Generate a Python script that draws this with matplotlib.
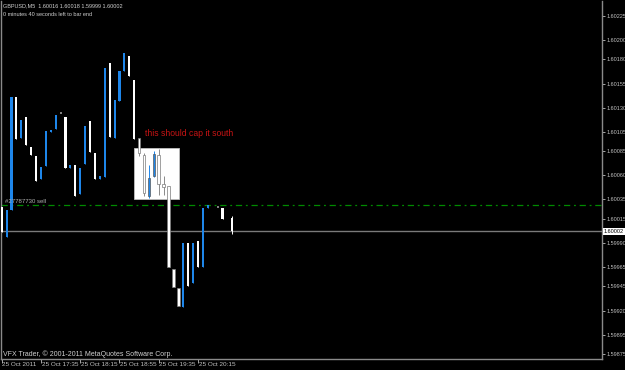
import matplotlib
matplotlib.use("Agg")
from matplotlib import pyplot as plt
from matplotlib import transforms
from matplotlib.patches import Rectangle
import numpy as np

plt.rcParams['font.family'] = ['Liberation Sans', 'DejaVu Sans']

# GBPUSD M5 bars (nan = no bar drawn)
opens = [1.60027, 1.59996, 1.60024, 1.60141, 1.60099, 1.60120, 1.60089, 1.60080,
         1.60056, 1.60070, 1.60105, 1.60108, 1.60125, 1.60120, 1.60068, 1.60071,
         1.60041, 1.60072, 1.60116, 1.60083, 1.60056, 1.60058, 1.60176, 1.60099,
         1.60137, 1.60168, 1.60184, 1.60159, 1.60099, 1.60081, 1.60039, 1.60059,
         1.60081, 1.60051, 1.60049, 1.59963, 1.59943, 1.59924, 1.59990, 1.59948,
         1.59992, 1.59965, 1.60026, np.nan, 1.60027, 1.60026, np.nan, 1.60016]
closes = [1.60001, 1.60024, 1.60141, 1.60098, 1.60117, 1.60091, 1.60081, 1.60054,
          1.60069, 1.60106, 1.60107, 1.60122, 1.60125, 1.60068, 1.60071, 1.60039,
          1.60068, 1.60111, 1.60084, 1.60056, 1.60059, 1.60171, 1.60100, 1.60138,
          1.60168, 1.60187, 1.60163, 1.60098, 1.60083, 1.60042, 1.60057, 1.60082,
          1.60051, 1.60048, 1.59965, 1.59944, 1.59925, 1.59990, 1.59945, 1.59990,
          1.59965, 1.60026, 1.60029, np.nan, 1.60027, 1.60015, np.nan, 1.60002]
highs = [1.60027, 1.60024, 1.60141, 1.60141, 1.60117, 1.60120, 1.60089, 1.60080,
         1.60069, 1.60106, 1.60107, 1.60122, 1.60125, 1.60120, 1.60071, 1.60071,
         1.60068, 1.60111, 1.60116, 1.60083, 1.60059, 1.60171, 1.60176, 1.60138,
         1.60168, 1.60187, 1.60184, 1.60159, 1.60099, 1.60083, 1.60071, 1.60085,
         1.60087, 1.60059, 1.60049, 1.59963, 1.59943, 1.59990, 1.59990, 1.59990,
         1.59992, 1.60026, 1.60029, np.nan, 1.60027, 1.60026, np.nan, 1.60018]
lows = [1.60001, 1.59996, 1.60024, 1.60098, 1.60099, 1.60091, 1.60081, 1.60054,
        1.60056, 1.60070, 1.60105, 1.60108, 1.60125, 1.60068, 1.60068, 1.60039,
        1.60041, 1.60072, 1.60084, 1.60056, 1.60056, 1.60058, 1.60100, 1.60099,
        1.60137, 1.60168, 1.60163, 1.60098, 1.60080, 1.60039, 1.60037, 1.60058,
        1.60040, 1.60040, 1.59965, 1.59944, 1.59925, 1.59924, 1.59945, 1.59948,
        1.59965, 1.59965, 1.60026, np.nan, 1.60027, 1.60015, np.nan, 1.59999]

time_ticks = [0, 8, 16, 24, 32, 40]
time_labels = ['25 Oct 2011', '25 Oct 17:35', '25 Oct 18:15', '25 Oct 18:55',
               '25 Oct 19:35', '25 Oct 20:15']
price_ticks = [1.60225, 1.60200, 1.60180, 1.60155, 1.60130, 1.60105, 1.60085,
               1.60060, 1.60035, 1.60015, 1.59990, 1.59965, 1.59945, 1.59920,
               1.59895, 1.59875]
order_price = 1.60029
order_label = '#27787730 sell'
note = 'this should cap it south'
title1 = 'GBPUSD,M5  1.60016 1.60018 1.59999 1.60002'
title2 = '0 minutes 40 seconds left to bar end'
copyright_txt = 'VFX Trader, \u00a9 2001-2011 MetaQuotes Software Corp.'

o = np.array(opens)
c = np.array(closes)
h = np.array(highs)
l = np.array(lows)
x = np.arange(len(o))

blue = '#1e86ea'
fig = plt.figure(figsize=(6.25, 3.7), dpi=100, facecolor='black')
ax = fig.add_axes([1/625, 11/370, 601/625, 358/370])
ax.set_facecolor('black')
ax.set_xlim(-0.14, 122.3)
ax.set_ylim(1.598698, 1.602405)

# white rectangle object
ax.add_patch(Rectangle((26.9, 1.600355), 9.2, 0.000528, facecolor='white',
                       edgecolor='#c0c0c0', lw=0.6, zorder=1))

# order line and bid line
ax.axhline(order_price, color='#008a00', lw=0.9, ls=(0, (5, 3, 1.5, 3)), zorder=2)
ax.axhline(c[-1], color='#7a7a7a', lw=1.0, zorder=2)

up = c > o
down = c < o
doji = c == o
inbox = (x >= 28) & (x <= 36)
ax.vlines(x[up], l[up], h[up], color=blue, lw=0.7, zorder=3)
ax.vlines(x[down], l[down], h[down], color=np.where(inbox[down], '#8a8a8a', 'white'),
          lw=0.7, zorder=3)
ax.bar(x[up], (c - o)[up], bottom=o[up], width=np.where(inbox[up], 0.55, 0.44),
       color=blue, edgecolor=np.where(inbox[up], '#5a5a5a', blue),
       lw=np.where(inbox[up], 0.5, 0), zorder=4)
ax.bar(x[down], (c - o)[down], bottom=o[down], width=np.where(inbox[down], 0.55, 0.44),
       color='white', edgecolor=np.where(inbox[down], '#7a7a7a', 'white'),
       lw=np.where(inbox[down], 0.5, 0), zorder=4)
ax.hlines(c[doji], x[doji] - 0.2, x[doji] + 0.2, color='#9a9a9a', lw=1.2, zorder=4)

ax.text(29.2, 1.601038, note, color='#c81414', fontsize=6.2, ha='left', va='center',
        zorder=5)
ax.text(0.7, order_price + 0.00001, order_label, color='#b0b0b0', fontsize=4.3,
        ha='left', va='bottom', zorder=5)

ax.spines['top'].set_visible(False)
for s in ['left', 'right', 'bottom']:
    ax.spines[s].set_color('#8a8a8a')
    ax.spines[s].set_linewidth(1)

ax.yaxis.tick_right()
ax.set_yticks(price_ticks)
ax.set_yticklabels(['%.5f' % p for p in price_ticks])
ax.tick_params(axis='y', colors='#c0c0c0', labelsize=4.0, length=2, width=0.6, pad=1)
ax.set_xticks(time_ticks)
ax.set_xticklabels([])
ax.tick_params(axis='x', colors='#c0c0c0', length=3, width=0.6)
tr = transforms.blended_transform_factory(ax.transData, ax.transAxes)
for t, lab in zip(time_ticks, time_labels):
    ax.text(t + 0.15, -0.008, lab, transform=tr, color='#c0c0c0', fontsize=4.6,
            ha='left', va='top')

# bid price tag
trp = transforms.blended_transform_factory(ax.transAxes, ax.transData)
ax.text(1.003, c[-1], '%.5f' % c[-1], transform=trp, color='black', fontsize=4.0,
        ha='left', va='center',
        bbox=dict(facecolor='white', edgecolor='none', pad=0.8))

fig.text(3/625, 1 - 6/370, title1, color='#d0d0d0', fontsize=4.0, ha='left', va='center')
fig.text(3/625, 1 - 14/370, title2, color='#d0d0d0', fontsize=4.0, ha='left', va='center')
fig.text(3/625, 1 - 354/370, copyright_txt, color='#d0d0d0', fontsize=5.0, ha='left',
         va='center')

fig.savefig('out.png', dpi=100, facecolor='black')
